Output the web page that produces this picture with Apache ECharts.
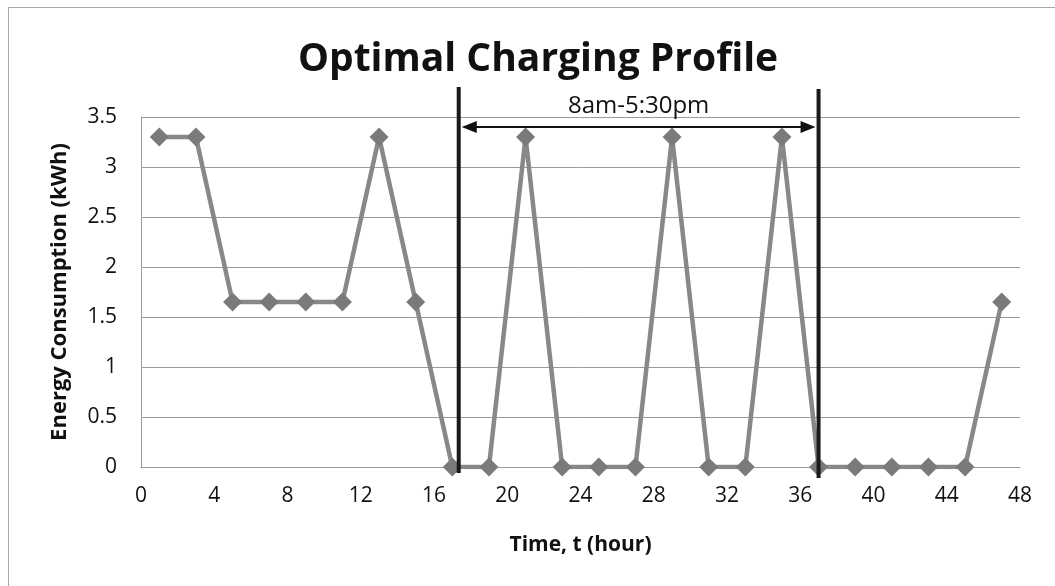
<!DOCTYPE html>
<html>
<head>
<meta charset="utf-8">
<script src="https://cdn.jsdelivr.net/npm/echarts@6/dist/echarts.min.js"></script>
<style>
  html, body { margin: 0; padding: 0; background: #ffffff; }
  #chart { width: 1055px; height: 586px; }
</style>
</head>
<body>
<div id="chart"></div>
<script>
// ---- data ----
const chartTitle = 'Optimal Charging Profile';
const xAxisName = 'Time, t (hour)';
const yAxisName = 'Energy Consumption (kWh)';
const times = [1, 3, 5, 7, 9, 11, 13, 15, 17, 19, 21, 23, 25, 27, 29, 31, 33, 35, 37, 39, 41, 43, 45, 47];
const energy = [3.3, 3.3, 1.65, 1.65, 1.65, 1.65, 3.3, 1.65, 0, 0, 3.3, 0, 0, 0, 3.3, 0, 0, 3.3, 0, 0, 0, 0, 0, 1.65];
const windowStart = 17.35;
const windowEnd = 37;
const windowArrowLevel = 3.4;
const windowLabel = '8am-5:30pm';

const FONT = '"Open Sans", "Noto Sans", sans-serif';

const chart = echarts.init(document.getElementById('chart'), null, { renderer: 'canvas' });

const option = {
  animation: false,
  backgroundColor: '#ffffff',
  graphic: [
    {
      type: 'rect',
      shape: { x: 8.5, y: 7.5, width: 1100, height: 700 },
      style: { fill: 'none', stroke: '#a8a8a8', lineWidth: 1 },
      silent: true
    },
    {
      type: 'text',
      x: 538, y: 60,
      style: {
        text: chartTitle,
        font: 'bold 39px ' + FONT,
        fill: '#111111',
        align: 'center',
        verticalAlign: 'middle'
      }
    }
  ],
  grid: { left: 141, right: 35, top: 117, bottom: 119, containLabel: false },
  xAxis: {
    type: 'value',
    min: 0, max: 48, interval: 4,
    name: xAxisName,
    nameLocation: 'middle',
    nameGap: 68,
    nameTextStyle: { fontFamily: FONT, fontWeight: 'bold', fontSize: 21, color: '#111111' },
    axisLine: { show: true, lineStyle: { color: '#9a9a9a', width: 1 } },
    axisTick: { show: false },
    axisLabel: { fontFamily: FONT, fontSize: 21, color: '#111111', margin: 19 },
    splitLine: { show: false }
  },
  yAxis: {
    type: 'value',
    min: 0, max: 3.5, interval: 0.5,
    name: yAxisName,
    nameLocation: 'middle',
    nameGap: 70,
    nameTextStyle: { fontFamily: FONT, fontWeight: 'bold', fontSize: 22, color: '#111111' },
    axisLine: { show: true, lineStyle: { color: '#9a9a9a', width: 1 } },
    axisTick: { show: false },
    axisLabel: { fontFamily: FONT, fontSize: 21, color: '#111111', margin: 24 },
    splitLine: { show: true, lineStyle: { color: '#9a9a9a', width: 1 } }
  },
  series: [
    {
      type: 'line',
      data: times.map((t, i) => [t, energy[i]]),
      symbol: 'diamond',
      symbolSize: 19,
      showAllSymbol: true,
      lineStyle: { color: '#888888', width: 4.5 },
      itemStyle: { color: '#7a7a7a' },
      z: 2
    },
    {
      type: 'custom',
      coordinateSystem: 'cartesian2d',
      z: 5,
      clip: false,
      encode: { x: [0, 1], y: 2 },
      data: [[windowStart, windowEnd, windowArrowLevel]],
      renderItem: function (params, api) {
        const xa = api.value(0), xb = api.value(1), lvl = api.value(2);
        const topA = api.coord([xa, 3.5]);
        const botA = api.coord([xa, 0]);
        const topB = api.coord([xb, 3.5]);
        const botB = api.coord([xb, 0]);
        const arrL = api.coord([xa, lvl]);
        const arrR = api.coord([xb, lvl]);
        const lineStyle = { stroke: '#1a1a1a', lineWidth: 4 };
        const ah = 15, aw = 6;
        return {
          type: 'group',
          children: [
            { type: 'line', shape: { x1: topA[0], y1: topA[1] - 30, x2: botA[0], y2: botA[1] + 6 }, style: lineStyle },
            { type: 'line', shape: { x1: topB[0], y1: topB[1] - 28, x2: botB[0], y2: botB[1] + 11 }, style: lineStyle },
            { type: 'line', shape: { x1: arrL[0] + 4 + ah - 2, y1: arrL[1], x2: arrR[0] - 4 - ah + 2, y2: arrR[1] }, style: { stroke: '#111111', lineWidth: 2 } },
            { type: 'polygon', shape: { points: [[arrL[0] + 3, arrL[1]], [arrL[0] + 3 + ah, arrL[1] - aw], [arrL[0] + 3 + ah, arrL[1] + aw]] }, style: { fill: '#111111' } },
            { type: 'polygon', shape: { points: [[arrR[0] - 3, arrR[1]], [arrR[0] - 3 - ah, arrR[1] - aw], [arrR[0] - 3 - ah, arrR[1] + aw]] }, style: { fill: '#111111' } },
            { type: 'text', x: (arrL[0] + arrR[0]) / 2, y: arrL[1] - 21, style: { text: windowLabel, font: '24px ' + FONT, fill: '#111111', align: 'center', verticalAlign: 'middle' } }
          ]
        };
      }
    }
  ]
};

chart.setOption(option);
</script>
</body>
</html>
